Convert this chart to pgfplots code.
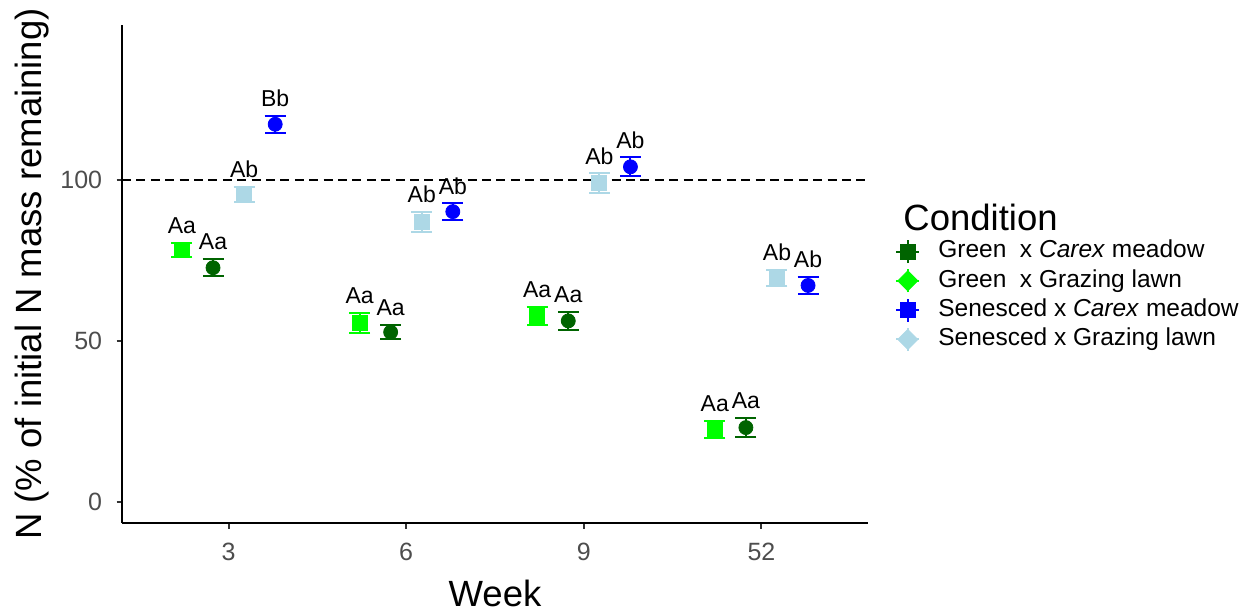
\documentclass[border=0pt]{standalone}
\usepackage{fontspec}
\setmainfont{Liberation Sans}
\usepackage{pgfplots}
\usepackage{pgfplotstable}
\pgfplotsset{compat=1.18}

\definecolor{greenmeadow}{HTML}{006400}
\definecolor{greenlawn}{HTML}{00FF00}
\definecolor{senmeadow}{HTML}{0000FF}
\definecolor{senlawn}{HTML}{ADD8E6}
\definecolor{ticktext}{HTML}{4D4D4D}
\definecolor{tickline}{HTML}{333333}

% x = week index (1..4) shifted by the dodge offset of the condition
% y = mean N remaining (%), e = standard error, lab = significance letters
\pgfplotstableread{
x      y     e    lab
0.7375 78.1  2.2  Aa
1.7375 55.5  3.2  Aa
2.7375 57.7  2.8  Aa
3.7375 22.6  2.7  Aa
}\tabGreenLawn

\pgfplotstableread{
x      y     e    lab
0.9125 72.7  2.7  Aa
1.9125 52.7  2.2  Aa
2.9125 56.2  2.8  Aa
3.9125 23.1  3.0  Aa
}\tabGreenMeadow

\pgfplotstableread{
x      y     e    lab
1.0875 95.5  2.3  Ab
2.0875 87.0  3.1  Ab
3.0875 99.0  3.0  Ab
4.0875 69.5  2.6  Ab
}\tabSenLawn

\pgfplotstableread{
x      y     e    lab
1.2625 117.2 2.6  Bb
2.2625 90.1  2.6  Ab
3.2625 104.0 2.9  Ab
4.2625 67.2  2.6  Ab
}\tabSenMeadow

\pgfplotsset{
  pointrange/.style n args={3}{
    color=#1, only marks, mark=#2, mark size=#3, forget plot,
    mark options={fill=#1, draw=#1, line width=0.4pt},
    error bars/y dir=both, error bars/y explicit,
    error bars/error mark=|,
    error bars/error bar style={line width=1pt, color=#1},
    error bars/error mark options={line width=1pt, mark size=5.25pt, color=#1},
  },
  letters/.style={
    only marks, mark=none, forget plot,
    nodes near coords, point meta=explicit symbolic,
    nodes near coords style={anchor=south, inner sep=0pt, yshift=4.3pt,
      text=black, font=\fontsize{11.5}{11.5}\selectfont},
  },
  squarekey/.style={legend image code/.code={
      \draw[#1, line width=1pt] (0pt,-5.75pt)--(0pt,5.75pt) (-5.75pt,0pt)--(5.75pt,0pt);
      \fill[#1] (-3.75pt,-3.75pt) rectangle (3.75pt,3.75pt);
  }},
  diamondkey/.style={legend image code/.code={
      \draw[#1, line width=1pt] (0pt,-5.75pt)--(0pt,5.75pt) (-5.75pt,0pt)--(5.75pt,0pt);
      \fill[#1] (0pt,-5pt)--(5pt,0pt)--(0pt,5pt)--(-5pt,0pt)--cycle;
  }},
}

\begin{document}
\begin{tikzpicture}
\useasboundingbox (0,0) rectangle (622.5pt,305.5pt);
\begin{axis}[
  at={(61pt,44pt)}, anchor=south west,
  scale only axis, width=373pt, height=249pt,
  xmin=0.4, xmax=4.6, ymin=-6.5, ymax=148,
  axis x line*=bottom, axis y line*=left,
  axis line style={line width=1pt, black, -},
  xtick={1,2,3,4}, xticklabels={3,6,9,52},
  ytick={0,50,100},
  tick align=outside, major tick length=2.75pt,
  tick style={tickline, line width=1pt},
  /pgf/number format/assume math mode=true,
  tick label style={font=\fontsize{12.5}{12.5}\selectfont, text=ticktext},
  xticklabel style={inner sep=0pt, yshift=-7pt},
  yticklabel style={inner sep=0pt, xshift=-7pt},
  xlabel={Week},
  ylabel={N (\% of initial N mass remaining)},
  label style={font=\fontsize{18.25}{18.25}\selectfont},
  x label style={at={(axis description cs:0.5,-0.1406)}, anchor=center, inner sep=0pt},
  y label style={at={(axis description cs:-0.1206,0.5)}, anchor=center},
  clip=false,
  legend cell align=left,
  legend style={at={(1.028,0.579)}, anchor=north west, draw=none, fill=none,
    font=\fontsize{12.25}{12.25}\selectfont, row sep=2.15pt,
    nodes={inner sep=0pt, text height=9pt, text depth=2.7pt},
    /tikz/every odd column/.append style={column sep=9pt}},
]
% points with standard-error bars
\addplot[pointrange={greenlawn}{square*}{3.75pt}]
  table[x=x, y=y, y error=e] {\tabGreenLawn};
\addplot[pointrange={greenmeadow}{*}{3.5pt}]
  table[x=x, y=y, y error=e] {\tabGreenMeadow};
\addplot[pointrange={senlawn}{square*}{3.75pt}]
  table[x=x, y=y, y error=e] {\tabSenLawn};
\addplot[pointrange={senmeadow}{*}{3.5pt}]
  table[x=x, y=y, y error=e] {\tabSenMeadow};

% significance letters above the upper error bar
\addplot[letters] table[x=x, y expr=\thisrow{y}+\thisrow{e}, meta=lab] {\tabGreenLawn};
\addplot[letters] table[x=x, y expr=\thisrow{y}+\thisrow{e}, meta=lab] {\tabGreenMeadow};
\addplot[letters] table[x=x, y expr=\thisrow{y}+\thisrow{e}, meta=lab] {\tabSenLawn};
\addplot[letters] table[x=x, y expr=\thisrow{y}+\thisrow{e}, meta=lab] {\tabSenMeadow};

% 100 % reference line
\addplot[black, line width=1pt, dash pattern=on 4.5pt off 2.7pt, forget plot]
  coordinates {(0.4,100) (4.6,100)};

% legend
\addlegendimage{squarekey=greenmeadow}
\addlegendentry{Green~ x \textit{Carex} meadow}
\addlegendimage{diamondkey=greenlawn}
\addlegendentry{Green~ x Grazing lawn}
\addlegendimage{squarekey=senmeadow}
\addlegendentry{Senesced x \textit{Carex} meadow}
\addlegendimage{diamondkey=senlawn}
\addlegendentry{Senesced x Grazing lawn}

\node[anchor=west, inner sep=0pt, font=\fontsize{18.25}{18.25}\selectfont]
  at (axis description cs:1.047,0.614) {Condition};
\end{axis}
\end{tikzpicture}
\end{document}
